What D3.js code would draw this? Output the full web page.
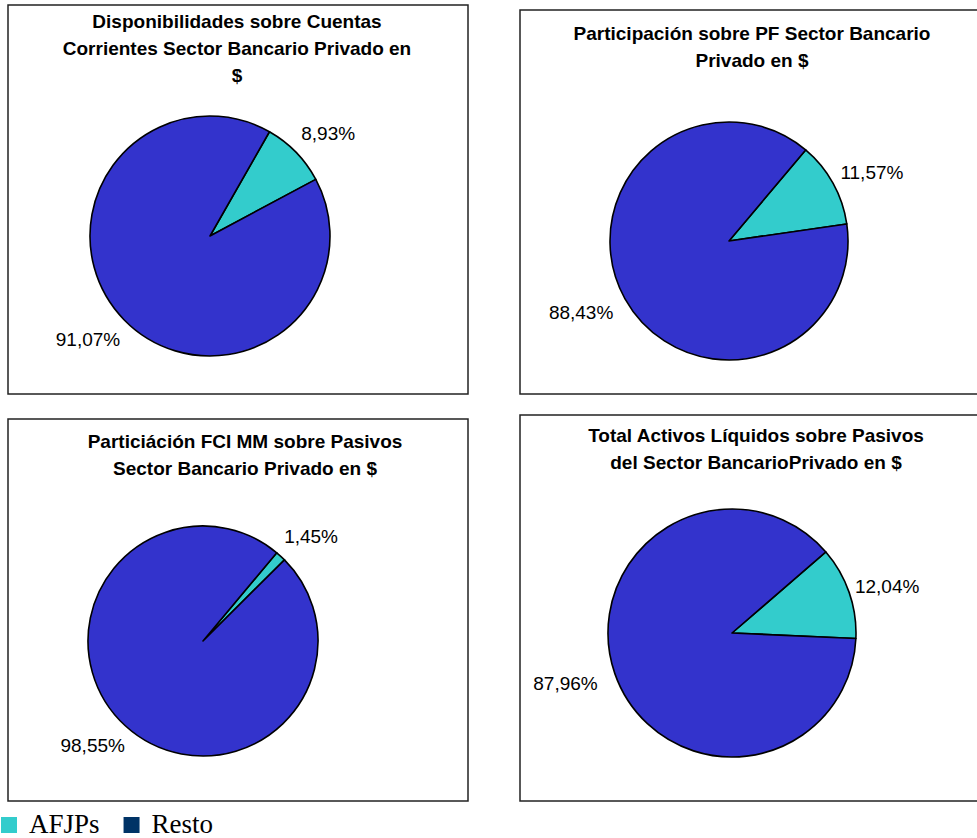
<!DOCTYPE html>
<html>
<head>
<meta charset="utf-8">
<script src="https://cdn.jsdelivr.net/npm/d3@7"></script>
<style>
  html, body { margin: 0; padding: 0; background: #fff; overflow: hidden; }
  svg { display: block; }
</style>
</head>
<body>
<svg id="chart" width="977" height="838"></svg>
<script>
// Series shares (%) for each of the four pies
const categories = ["AFJPs", "Resto"];
const chartTitles = [
  ["Disponibilidades sobre Cuentas", "Corrientes Sector Bancario Privado en", "$"],
  ["Participación sobre PF Sector Bancario", "Privado en $"],
  ["Particiáción FCI MM sobre Pasivos", "Sector Bancario Privado en $"],
  ["Total Activos Líquidos sobre Pasivos", "del Sector BancarioPrivado en $"]
];
const afjpShare  = [8.93, 11.57, 1.45, 12.04];
const restoShare = [91.07, 88.43, 98.55, 87.96];

// Colours
const sliceColors  = { "AFJPs": "#33CCCC", "Resto": "#3333CC" };
const legendColors = { "AFJPs": "#33CCCC", "Resto": "#003366" };

// Panel frames, title placement, pie geometry and label gaps (AFJPs, Resto)
const panels = [
  { x: 8,   y: 5,   w: 460, h: 389, titleX: 237, titleY: 28,  cx: 210, cy: 236, r: 120, start: 29.7, gaps: [18, 18] },
  { x: 520, y: 10,  w: 462, h: 384, titleX: 752, titleY: 40,  cx: 729, cy: 241, r: 119, start: 40.1, gaps: [13, 18] },
  { x: 8,   y: 419, w: 460, h: 382, titleX: 245, titleY: 448, cx: 203, cy: 641, r: 115, start: 39.9, gaps: [18, 16] },
  { x: 520, y: 415, w: 462, h: 386, titleX: 756, titleY: 442, cx: 732, cy: 633, r: 124, start: 49.2, gaps: [8, 20] }
];

const locale = d3.formatLocale({ decimal: ",", thousands: ".", grouping: [3], currency: ["$", ""] });
const fmt = locale.format(".2f");

const svg = d3.select("#chart");
const rad = d => d * Math.PI / 180;

panels.forEach((p, i) => {
  const g = svg.append("g");

  g.append("rect")
    .attr("x", p.x).attr("y", p.y)
    .attr("width", p.w).attr("height", p.h)
    .attr("fill", "#fff")
    .attr("stroke", "#222")
    .attr("stroke-width", 1.5);

  // Title lines
  const title = g.append("text")
    .attr("x", p.titleX).attr("y", p.titleY)
    .attr("text-anchor", "middle")
    .attr("font-family", "Liberation Sans, Arial, sans-serif")
    .attr("font-weight", "bold")
    .attr("font-size", 19)
    .attr("fill", "#000");
  chartTitles[i].forEach((line, k) => {
    title.append("tspan")
      .attr("x", p.titleX)
      .attr("y", p.titleY + k * 27)
      .text(line);
  });

  const data = categories.map((c, k) => ({ cat: c, value: k === 0 ? afjpShare[i] : restoShare[i] }));
  const pie = d3.pie()
    .value(d => d.value)
    .sort(null)
    .startAngle(rad(p.start))
    .endAngle(rad(p.start) + 2 * Math.PI);
  const arc = d3.arc().innerRadius(0).outerRadius(p.r);

  const pg = g.append("g").attr("transform", `translate(${p.cx},${p.cy})`);
  const arcs = pie(data);

  pg.selectAll("path")
    .data(arcs)
    .join("path")
    .attr("d", arc)
    .attr("fill", d => sliceColors[d.data.cat])
    .attr("stroke", "#000")
    .attr("stroke-width", 1.6)
    .attr("stroke-linejoin", "round");

  // Outside-end data labels: box set next to a point beyond the rim at the slice mid-angle
  const boxH = 20;
  arcs.forEach((a, k) => {
    const gap = p.gaps[k];
    const mid = (a.startAngle + a.endAngle) / 2;
    const s = Math.sin(mid), c = Math.cos(mid);
    const t = pg.append("text")
      .attr("text-anchor", "middle")
      .attr("font-family", "Liberation Sans, Arial, sans-serif")
      .attr("font-size", 19)
      .attr("fill", "#000")
      .text(fmt(a.data.value) + "%");
    const w = t.node().getComputedTextLength();
    const bx = (p.r + gap) * s + (w / 2) * s;
    const by = -(p.r + gap) * c - (boxH / 2) * c;
    t.attr("x", bx).attr("y", by + 7);
  });
});

// Legend
const legend = svg.append("g");
let lx = 1;
categories.forEach(c => {
  legend.append("rect")
    .attr("x", lx).attr("y", 817)
    .attr("width", 16).attr("height", 16)
    .attr("fill", legendColors[c]);
  const t = legend.append("text")
    .attr("x", lx + 28).attr("y", 833)
    .attr("font-family", "Liberation Serif, Times New Roman, serif")
    .attr("font-size", 27)
    .attr("fill", "#000")
    .text(c);
  lx += 28 + t.node().getComputedTextLength() + 24;
});
</script>
</body>
</html>
